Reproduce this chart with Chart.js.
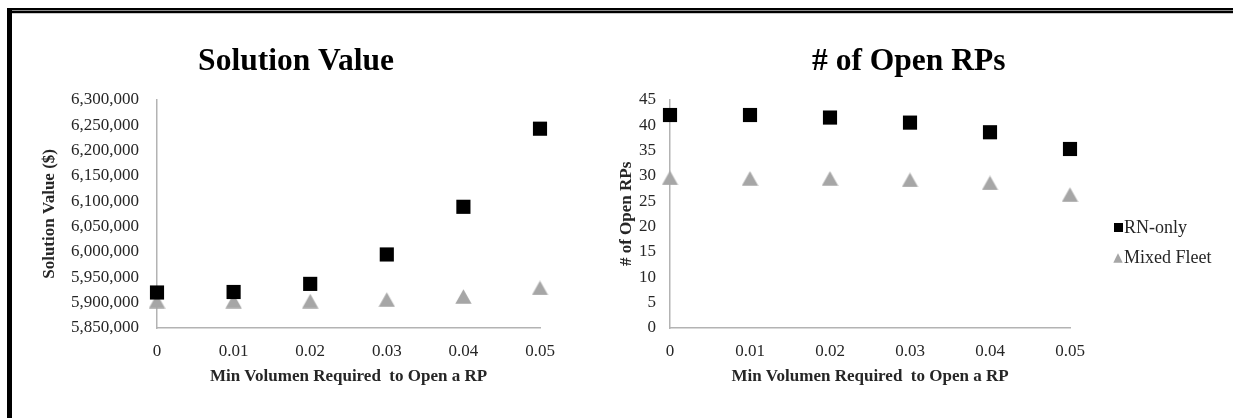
<!DOCTYPE html>
<html>
<head>
<meta charset="utf-8">
<script src="https://cdn.jsdelivr.net/npm/chart.js@4.4.1/dist/chart.umd.min.js"></script>
<style>
html,body{margin:0;padding:0;background:#fff;}
body{width:1233px;height:418px;position:relative;overflow:hidden;}
#w1{position:absolute;left:0;top:0;width:592px;height:418px;}
#w2{position:absolute;left:596px;top:0;width:637px;height:418px;}
.fr{position:absolute;z-index:5;}
</style>
</head>
<body>
<div id="w1"><canvas id="c1" width="592" height="418"></canvas></div>
<div id="w2"><canvas id="c2" width="637" height="418"></canvas></div>
<div class="fr" style="left:7px;top:8px;width:1226px;height:2px;background:#000"></div>
<div class="fr" style="left:12px;top:10px;width:1221px;height:1px;background:#8c8c8c"></div>
<div class="fr" style="left:7px;top:11px;width:1226px;height:2px;background:#000"></div>
<div class="fr" style="left:12px;top:13px;width:1221px;height:1px;background:#c8c8c8"></div>
<div class="fr" style="left:7px;top:8px;width:5px;height:410px;background:#000"></div>
<script>
// ---- data ----
const xValues = [0, 0.01, 0.02, 0.03, 0.04, 0.05];
const xTickLabels = ['0', '0.01', '0.02', '0.03', '0.04', '0.05'];
const seriesNames = ['RN-only', 'Mixed Fleet'];
const solutionRN = [5920000, 5921000, 5937000, 5995000, 6089000, 6243000];
const solutionMixed = [5903000, 5903000, 5903000, 5906000, 5912000, 5929000];
const openRN = [42, 42, 41.5, 40.5, 38.6, 35.3];
const openMixed = [29.6, 29.5, 29.5, 29.2, 28.6, 26.3];
const solutionAxis = [5850000, 6300000, 50000];
const openAxis = [0, 45, 5];
const chartTitles = ['Solution Value', '# of Open RPs'];
const yTitles = ['Solution Value ($)', '# of Open RPs'];
const xTitle = 'Min Volumen Required  to Open a RP';

// ---- styles ----
const FONT = "'Liberation Serif', 'Times New Roman', serif";
const TXT = '#262626';
const AXIS = '#b3b3b3';
const GRAY = '#a6a6a6';

// canvas with a marker drawn at its right end (so the legend text follows it closely)
function markerCanvas(totalW, h, markW, kind, color) {
  const c = document.createElement('canvas');
  c.width = totalW; c.height = h;
  const g = c.getContext('2d');
  g.fillStyle = color;
  const x0 = totalW - markW;
  if (kind === 'tri') {
    g.beginPath();
    g.moveTo(x0 + markW / 2, 0.3); g.lineTo(totalW - 0.3, h - 0.3); g.lineTo(x0 + 0.3, h - 0.3);
    g.closePath(); g.fill();
  } else {
    g.fillRect(x0, 0, markW, h);
  }
  return c;
}
const triData = markerCanvas(17, 15, 17, 'tri', GRAY);
const LEG_BOX = 33;
const sqLegend = markerCanvas(49, 9, 9, 'sq', '#000');
const triLegend = markerCanvas(49, 10, 10, 'tri', GRAY);

function pts(ys) { return xValues.map((x, i) => ({x: x, y: ys[i]})); }

function makeDatasets(rn, mixed) {
  return [
    {label: seriesNames[0], data: pts(rn), pointStyle: 'rect', pointRadius: 10, pointHoverRadius: 10,
     backgroundColor: '#000', borderColor: '#000', borderWidth: 0, showLine: false, clip: false},
    {label: seriesNames[1], data: pts(mixed), pointStyle: triData, pointRadius: 9, pointHoverRadius: 9,
     backgroundColor: GRAY, borderColor: GRAY, borderWidth: 0, showLine: false, clip: false}
  ];
}

function xScale() {
  return {
    type: 'linear', min: 0, max: 0.05,
    grid: {display: false, drawTicks: false}, border: {display: true, color: AXIS, width: 1.5},
    ticks: {stepSize: 0.01, padding: 13, color: TXT, font: {family: FONT, size: 17},
      callback: (v, i) => xTickLabels[i]},
    title: {display: true, text: xTitle, color: TXT, font: {family: FONT, size: 17, weight: 'bold', lineHeight: 1.2},
      padding: {top: 0, bottom: 31}},
    afterFit: s => { s.height = 90; }
  };
}
function yScale(ax, width, tickPad, titleText, titlePad, fmt) {
  return {
    type: 'linear', min: ax[0], max: ax[1],
    grid: {display: false, drawTicks: false}, border: {display: true, color: AXIS, width: 1.5},
    ticks: {stepSize: ax[2], padding: tickPad, color: TXT, font: {family: FONT, size: 17}, callback: fmt},
    title: {display: true, text: titleText, color: TXT, font: {family: FONT, size: 17, weight: 'bold', lineHeight: 1.2},
      padding: {top: titlePad, bottom: 0}},
    afterFit: s => { s.width = width; }
  };
}
function titleOpts(t) {
  return {display: true, text: t, color: '#000', font: {family: FONT, size: 31.5, weight: 'bold', lineHeight: 1.2},
    padding: {top: 43, bottom: 19}};
}

const fmtComma = v => v.toLocaleString('en-US');

// left chart: padding.left shifts the full-width title so it is centred like the reference
const chart1 = new Chart(document.getElementById('c1'), {
  type: 'scatter',
  data: {datasets: makeDatasets(solutionRN, solutionMixed)},
  options: {
    responsive: false, animation: false, events: [],
    layout: {padding: {left: 52, right: 52, top: 0, bottom: 0}},
    scales: {
      x: xScale(),
      y: yScale(solutionAxis, 105, 18, yTitles[0], -12.6, fmtComma)
    },
    plugins: {legend: {display: false}, tooltip: {enabled: false}, title: titleOpts(chartTitles[0])}
  }
});

const chart2 = new Chart(document.getElementById('c2'), {
  type: 'scatter',
  data: {datasets: makeDatasets(openRN, openMixed)},
  options: {
    responsive: false, animation: false, events: [],
    layout: {padding: {left: 0, right: 10, top: 0, bottom: 0}},
    scales: {
      x: xScale(),
      y: yScale(openAxis, 74, 14, yTitles[1], 20, v => String(v))
    },
    plugins: {
      tooltip: {enabled: false},
      title: titleOpts(chartTitles[1]),
      legend: {
        display: true, position: 'right', align: 'center', fullSize: false,
        title: {display: true, text: ' ', font: {size: 10, lineHeight: 1}, padding: {top: 48, bottom: 0}},
        labels: {
          usePointStyle: true, boxWidth: LEG_BOX, pointStyleWidth: LEG_BOX, padding: 12, color: TXT,
          font: {family: FONT, size: 18},
          generateLabels: (ch) => {
            const items = Chart.defaults.plugins.legend.labels.generateLabels(ch);
            items[0].pointStyle = sqLegend;
            items[1].pointStyle = triLegend;
            return items;
          }
        }
      }
    }
  }
});
// align the plot area's right edge (x = 0.05) with the reference
const wantRight = 1070 - 596;
chart2.options.layout.padding.right = Math.max(0, chart2.options.layout.padding.right + (chart2.chartArea.right - wantRight));
chart2.update();
</script>
</body>
</html>
